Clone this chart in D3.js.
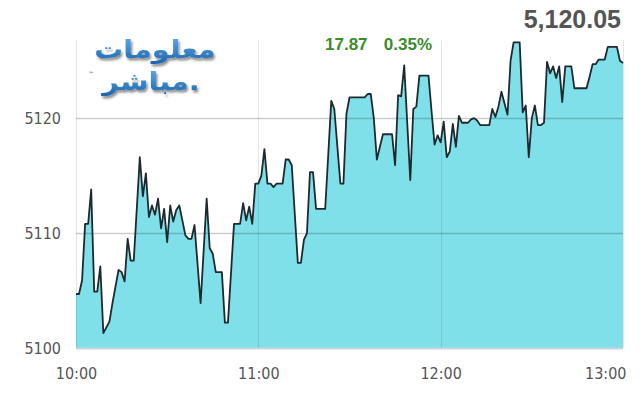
<!DOCTYPE html>
<html><head><meta charset="utf-8">
<script src="https://cdn.jsdelivr.net/npm/d3@7"></script>
<style>body{margin:0;background:#fff;overflow:hidden}</style>
</head><body><svg id="c" width="640" height="400"></svg>
<script>
const times = ["10:00","10:01","10:02","10:03","10:04","10:05","10:06","10:07","10:08","10:09","10:11","10:12","10:14","10:15","10:16","10:17","10:18","10:19","10:21","10:22","10:23","10:24","10:25","10:26","10:27","10:28","10:29","10:30","10:31","10:32","10:33","10:34","10:35","10:36","10:37","10:38","10:39","10:41","10:43","10:44","10:45","10:46","10:48","10:49","10:50","10:52","10:54","10:55","10:56","10:57","10:58","10:59","11:00","11:01","11:02","11:03","11:04","11:05","11:06","11:08","11:09","11:10","11:11","11:13","11:14","11:15","11:16","11:17","11:18","11:19","11:22","11:24","11:25","11:27","11:28","11:29","11:30","11:35","11:36","11:37","11:38","11:39","11:41","11:44","11:45","11:46","11:47","11:48","11:50","11:51","11:52","11:53","11:56","11:57","11:58","11:59","12:00","12:01","12:02","12:03","12:04","12:05","12:06","12:07","12:09","12:10","12:11","12:12","12:13","12:16","12:17","12:18","12:19","12:20","12:22","12:23","12:24","12:26","12:27","12:28","12:29","12:30","12:31","12:32","12:33","12:34","12:35","12:36","12:37","12:38","12:39","12:40","12:41","12:43","12:44","12:48","12:49","12:50","12:51","12:52","12:54","12:55","12:58","12:59","13:00"];
const values = [5104.7,5104.7,5105.9,5110.8,5110.8,5113.8,5104.9,5104.9,5107.1,5101.3,5102.3,5103.9,5106.8,5106.6,5105.8,5109.5,5107.6,5107.6,5116.6,5113.2,5115.2,5111.4,5112.4,5111.6,5113.0,5110.4,5112.1,5109.2,5112.4,5111.0,5112.0,5112.4,5111.1,5109.8,5109.5,5109.5,5110.7,5103.9,5113.0,5108.7,5108.2,5106.6,5106.6,5102.2,5102.2,5110.8,5110.8,5112.6,5111.1,5112.3,5110.8,5114.3,5114.3,5115.0,5117.3,5114.3,5114.3,5114.0,5114.3,5114.3,5116.4,5116.4,5115.9,5107.4,5107.4,5109.4,5110.0,5115.3,5115.3,5112.1,5112.1,5121.5,5120.8,5114.3,5114.3,5120.4,5121.8,5121.8,5122.1,5122.1,5120.0,5116.4,5118.6,5118.6,5115.9,5122.0,5121.9,5124.6,5114.6,5120.8,5121.0,5123.7,5123.7,5120.6,5117.7,5118.5,5117.9,5119.7,5116.6,5117.1,5119.5,5117.5,5120.2,5119.6,5119.6,5119.9,5120.0,5119.8,5119.4,5119.4,5120.8,5120.1,5121.0,5122.3,5120.3,5125.0,5126.6,5126.6,5120.5,5121.1,5116.6,5120.0,5121.1,5119.4,5119.4,5119.6,5124.9,5123.9,5124.5,5123.5,5124.5,5121.4,5124.5,5124.5,5122.6,5122.6,5123.6,5124.7,5124.7,5125.1,5125.1,5126.2,5126.2,5125.0,5124.8];
const yTicks = [5100, 5110, 5120];
const xTicks = ["10:00","11:00","12:00","13:00"];
const lastPrice = "5,120.05";
const change = "17.87";
const changePct = "0.35%";
const logoLines = ["معلومات", "مباشر."];

const parse = d3.timeParse("%H:%M");
const data = times.map((t, i) => ({t: parse(t), v: values[i]}));
const svg = d3.select("#c");
const x = d3.scaleTime().domain([parse("10:00"), parse("13:00")]).range([76, 623]);
const y = d3.scaleLinear().domain([5100, 5126.8]).range([348, 40]);
const font = "'Liberation Sans Narrow','DejaVu Sans Condensed',sans-serif";

// area
svg.append("path").datum(data)
  .attr("fill", "#7fe0ea")
  .attr("d", d3.area().x(d => x(d.t)).y0(y(5100)).y1(d => y(d.v)));

// grid
svg.append("g").selectAll("line").data(xTicks.map(parse)).join("line")
  .attr("x1", d => Math.round(x(d)) + 0.5).attr("x2", d => Math.round(x(d)) + 0.5)
  .attr("y1", y.range()[1]).attr("y2", y(5100))
  .attr("stroke", "#000").attr("stroke-opacity", 0.1);
svg.append("g").selectAll("line").data(yTicks.slice(1)).join("line")
  .attr("x1", 76).attr("x2", 623)
  .attr("y1", d => Math.round(y(d)) + 0.5).attr("y2", d => Math.round(y(d)) + 0.5)
  .attr("stroke", "#000").attr("stroke-opacity", 0.2).attr("stroke-width", 1.5);
svg.append("line").attr("x1", 76).attr("x2", 623)
  .attr("y1", y(5100) + 0.5).attr("y2", y(5100) + 0.5)
  .attr("stroke", "#c9d6da").attr("stroke-width", 2);

// line
svg.append("path").datum(data)
  .attr("fill", "none").attr("stroke", "#1c2a30").attr("stroke-width", 1.8)
  .attr("stroke-linejoin", "round")
  .attr("d", d3.line().x(d => x(d.t)).y(d => y(d.v)));

// axes
const ya = svg.append("g").attr("transform", "translate(76,0)")
  .call(d3.axisLeft(y).tickValues(yTicks).tickSize(0).tickPadding(15).tickFormat(d3.format("d")));
ya.select(".domain").remove();
ya.selectAll("text").attr("font-family", font).attr("font-size", 16).attr("fill", "#555");

const xa = svg.append("g").attr("transform", "translate(0,348)")
  .call(d3.axisBottom(x).tickValues(xTicks.map(parse)).tickSize(0).tickPadding(20).tickFormat(d3.timeFormat("%H:%M")));
xa.select(".domain").remove();
xa.selectAll("text").attr("font-family", font).attr("font-size", 16).attr("fill", "#555");
xa.selectAll(".tick").filter((d, i, n) => i === n.length - 1).select("text")
  .attr("text-anchor", "end").attr("dx", 3);

// header texts
svg.append("text").attr("x", 621).attr("y", 28).attr("text-anchor", "end")
  .attr("font-family", "'Liberation Sans',Arial,sans-serif").attr("font-weight", "bold")
  .attr("font-size", 25).attr("fill", "#555").text(lastPrice);
svg.append("text").attr("x", 325).attr("y", 50)
  .attr("font-family", "'Liberation Sans',Arial,sans-serif").attr("font-weight", "bold")
  .attr("font-size", 17).attr("fill", "#3d8a2a").text(change);
svg.append("text").attr("x", 432).attr("y", 50).attr("text-anchor", "end")
  .attr("font-family", "'Liberation Sans',Arial,sans-serif").attr("font-weight", "bold")
  .attr("font-size", 17).attr("fill", "#3d8a2a").text(changePct);

// logo
const defs = svg.append("defs");
const f = defs.append("filter").attr("id", "sh").attr("x", "-20%").attr("y", "-20%").attr("width", "140%").attr("height", "160%");
f.append("feDropShadow").attr("dx", 1.5).attr("dy", 2.5).attr("stdDeviation", 1.2).attr("flood-color", "#000").attr("flood-opacity", 0.45);
const g = defs.append("linearGradient").attr("id", "lg").attr("x1", 0).attr("y1", 0).attr("x2", 0).attr("y2", 1);
g.append("stop").attr("offset", "0%").attr("stop-color", "#5fb0e8");
g.append("stop").attr("offset", "100%").attr("stop-color", "#1a63ad");
const logo = svg.append("g").attr("filter", "url(#sh)");
[[155, 58], [151, 90]].forEach(([cx, cy], i) => {
  logo.append("g").attr("transform", `translate(${cx},${cy}) scale(1.15,1)`)
    .append("text").attr("text-anchor", "middle")
    .attr("font-family", "'DejaVu Sans',sans-serif").attr("font-weight", "bold").attr("font-size", 25)
    .attr("fill", "url(#lg)").text(logoLines[i]);
});
svg.append("text").attr("x", 88).attr("y", 76).attr("font-family", "'DejaVu Sans',sans-serif")
  .attr("font-size", 6).attr("fill", "#444").text("™");
</script></body></html>
